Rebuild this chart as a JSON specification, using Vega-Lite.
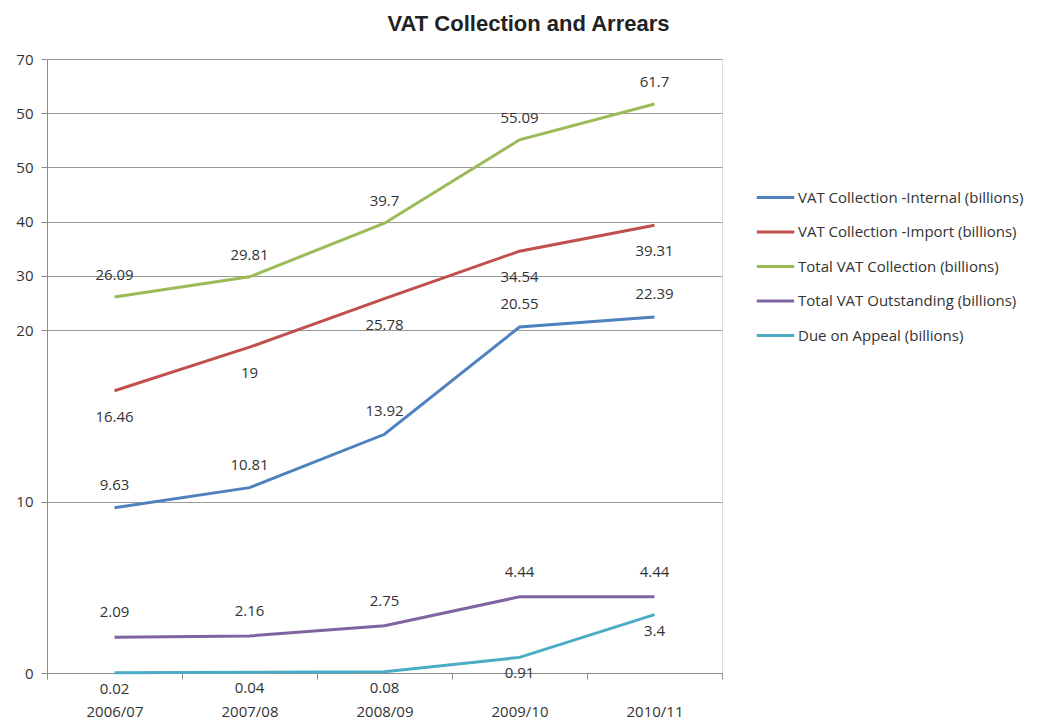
{
  "$schema": "https://vega.github.io/schema/vega-lite/v6.json",
  "width": 675,
  "height": 614,
  "autosize": "none",
  "padding": {"left": 47, "top": 59, "right": 325, "bottom": 46},
  "background": "white",
  "title": {"text": "VAT Collection and Arrears", "font": "Liberation Sans", "fontSize": 22, "fontWeight": "bold", "color": "#222222", "anchor": "middle", "frame": "group", "dx": 144, "offset": 16},
  "data": {"values": [
    {"period": "2006/07", "series": "VAT Collection -Internal (billions)", "value": 9.63},
    {"period": "2007/08", "series": "VAT Collection -Internal (billions)", "value": 10.81},
    {"period": "2008/09", "series": "VAT Collection -Internal (billions)", "value": 13.92},
    {"period": "2009/10", "series": "VAT Collection -Internal (billions)", "value": 20.55},
    {"period": "2010/11", "series": "VAT Collection -Internal (billions)", "value": 22.39},
    {"period": "2006/07", "series": "VAT Collection -Import (billions)", "value": 16.46},
    {"period": "2007/08", "series": "VAT Collection -Import (billions)", "value": 19},
    {"period": "2008/09", "series": "VAT Collection -Import (billions)", "value": 25.78},
    {"period": "2009/10", "series": "VAT Collection -Import (billions)", "value": 34.54},
    {"period": "2010/11", "series": "VAT Collection -Import (billions)", "value": 39.31},
    {"period": "2006/07", "series": "Total VAT Collection (billions)", "value": 26.09},
    {"period": "2007/08", "series": "Total VAT Collection (billions)", "value": 29.81},
    {"period": "2008/09", "series": "Total VAT Collection (billions)", "value": 39.7},
    {"period": "2009/10", "series": "Total VAT Collection (billions)", "value": 55.09},
    {"period": "2010/11", "series": "Total VAT Collection (billions)", "value": 61.7},
    {"period": "2006/07", "series": "Total VAT Outstanding (billions)", "value": 2.09},
    {"period": "2007/08", "series": "Total VAT Outstanding (billions)", "value": 2.16},
    {"period": "2008/09", "series": "Total VAT Outstanding (billions)", "value": 2.75},
    {"period": "2009/10", "series": "Total VAT Outstanding (billions)", "value": 4.44},
    {"period": "2010/11", "series": "Total VAT Outstanding (billions)", "value": 4.44},
    {"period": "2006/07", "series": "Due on Appeal (billions)", "value": 0.02},
    {"period": "2007/08", "series": "Due on Appeal (billions)", "value": 0.04},
    {"period": "2008/09", "series": "Due on Appeal (billions)", "value": 0.08},
    {"period": "2009/10", "series": "Due on Appeal (billions)", "value": 0.91},
    {"period": "2010/11", "series": "Due on Appeal (billions)", "value": 3.4}
  ]},
  "encoding": {
    "x": {"field": "period", "type": "ordinal", "scale": {"paddingInner": 0, "paddingOuter": 0},
      "axis": {"title": null, "labelAngle": 0, "grid": false, "tickBand": "extent", "tickSize": 6, "domainColor": "#8c8c8c", "tickColor": "#8c8c8c", "labelFont": "Open Sans", "labelFontSize": 15, "labelColor": "#333333", "labelPadding": 25}},
    "y": {"field": "value", "type": "quantitative",
      "scale": {"domain": [0, 20, 70], "range": [614, 271, 0], "nice": false, "zero": false},
      "axis": {"title": null, "values": [0, 10, 20, 30, 40, 50, 60, 70], "labelExpr": "datum.value == 60 ? '50' : datum.label", "grid": true, "gridColor": "#9a9a9a", "gridWidth": 1.2, "domainColor": "#8c8c8c", "tickColor": "#8c8c8c", "tickSize": 6, "labelFont": "Open Sans", "labelFontSize": 15, "labelColor": "#333333", "labelPadding": 8}}
  },
  "layer": [
    {
      "mark": {"type": "line", "strokeWidth": 3},
      "encoding": {
        "color": {"field": "series", "type": "nominal",
          "scale": {"domain": ["VAT Collection -Internal (billions)", "VAT Collection -Import (billions)", "Total VAT Collection (billions)", "Total VAT Outstanding (billions)", "Due on Appeal (billions)"],
                    "range": ["#4f81bd", "#c0504d", "#9bbb59", "#8064a2", "#4bacc6"]},
          "legend": {"title": null, "orient": "none", "legendX": 708, "legendY": 118, "symbolType": "stroke", "symbolStrokeWidth": 3, "symbolSize": 1400, "labelFont": "Open Sans", "labelFontSize": 15, "labelColor": "#333333", "labelOffset": 2, "labelLimit": 400, "rowPadding": 5.5}}
      }
    },
    {
      "transform": [{"filter": "datum.series == 'VAT Collection -Internal (billions)'"}],
      "mark": {"type": "text", "dy": -23, "font": "Open Sans", "fontSize": 15, "color": "#333333"},
      "encoding": {"text": {"field": "value", "type": "nominal"}}
    },
    {
      "transform": [{"filter": "datum.series == 'VAT Collection -Import (billions)'"}],
      "mark": {"type": "text", "dy": 26, "font": "Open Sans", "fontSize": 15, "color": "#333333"},
      "encoding": {"text": {"field": "value", "type": "nominal"}}
    },
    {
      "transform": [{"filter": "datum.series == 'Total VAT Collection (billions)'"}],
      "mark": {"type": "text", "dy": -22, "font": "Open Sans", "fontSize": 15, "color": "#333333"},
      "encoding": {"text": {"field": "value", "type": "nominal"}}
    },
    {
      "transform": [{"filter": "datum.series == 'Total VAT Outstanding (billions)'"}],
      "mark": {"type": "text", "dy": -25, "font": "Open Sans", "fontSize": 15, "color": "#333333"},
      "encoding": {"text": {"field": "value", "type": "nominal"}}
    },
    {
      "transform": [{"filter": "datum.series == 'Due on Appeal (billions)'"}],
      "mark": {"type": "text", "dy": 16, "font": "Open Sans", "fontSize": 15, "color": "#333333"},
      "encoding": {"text": {"field": "value", "type": "nominal"}}
    }
  ]
}
